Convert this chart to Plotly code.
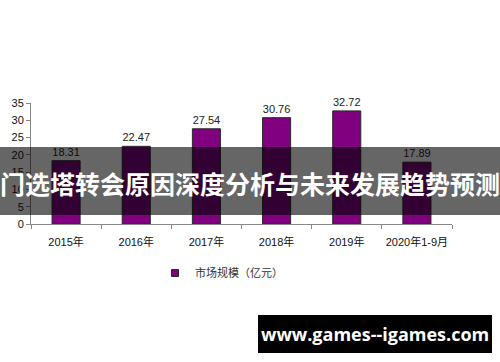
import plotly.graph_objects as go

categories = ["2015年", "2016年", "2017年", "2018年", "2019年", "2020年1-9月"]
values = [18.31, 22.47, 27.54, 30.76, 32.72, 17.89]
labels = ["18.31", "22.47", "27.54", "30.76", "32.72", "17.89"]
series_name = "市场规模（亿元）"
banner_text = "门选塔转会原因深度分析与未来发展趋势预测"
watermark_text = "www.games--igames.com"

W, H = 500, 362
FONT = "Arial, 'Liberation Sans', 'Noto Sans CJK SC', sans-serif"

fig = go.Figure()
fig.add_trace(go.Bar(
    x=categories, y=values, name=series_name, showlegend=False,
    marker=dict(color="#800080", line=dict(color="#2a2a2a", width=1)),
    width=0.4,
    text=labels, textposition="outside", cliponaxis=False,
    textfont=dict(size=11, color="#222222", family=FONT),
))
# legend entry with a small square swatch
fig.add_trace(go.Scatter(
    x=[None], y=[None], mode="markers", name=series_name, showlegend=True,
    marker=dict(symbol="square", size=7, color="#800080", line=dict(color="#2a2a2a", width=1)),
))

def px_x(p):
    return p / W

def px_y(p):
    return 1 - p / H

fig.update_layout(
    width=W, height=H,
    margin=dict(l=0, r=0, t=0, b=0, autoexpand=False),
    paper_bgcolor="white", plot_bgcolor="white",
    font=dict(family=FONT, size=11, color="#111111"),
    showlegend=True,
    legend=dict(orientation="h", x=px_x(155), y=px_y(273), xanchor="left", yanchor="middle",
                font=dict(size=11, color="#333333"), itemwidth=30, bgcolor="rgba(0,0,0,0)"),
    xaxis=dict(domain=[px_x(31), px_x(452)], showline=True, linecolor="#888888", linewidth=1,
               ticks="outside", tickson="boundaries", ticklen=4, tickcolor="#888888",
               ticklabelstandoff=8,
               tickangle=0, showgrid=False, tickfont=dict(size=11, color="#111111")),
    yaxis=dict(domain=[px_y(224), px_y(103)], range=[0, 35], dtick=5, showline=True,
               linecolor="#888888", linewidth=1, ticks="outside", ticklen=4, tickcolor="#888888",
               showgrid=False, zeroline=False, tickfont=dict(size=11, color="#111111")),
    bargap=0.6,
)

shapes = [
    dict(type="rect", xref="paper", yref="paper", x0=0, x1=1, y0=px_y(215), y1=px_y(147),
         fillcolor="rgba(0,0,0,0.6)", line=dict(width=0), layer="above"),
    dict(type="rect", xref="paper", yref="paper", x0=px_x(258), x1=px_x(492), y0=px_y(353), y1=px_y(315),
         fillcolor="black", line=dict(width=0), layer="above"),
]
fig.update_layout(shapes=shapes)

fig.add_annotation(text="<b>" + banner_text + "</b>", xref="paper", yref="paper",
                   x=0.5, y=px_y(183), xanchor="center", yanchor="middle", showarrow=False,
                   font=dict(size=25, color="white", family="'Noto Sans CJK SC', sans-serif"))
fig.add_annotation(text="<b>" + watermark_text + "</b>", xref="paper", yref="paper",
                   x=px_x(375), y=px_y(334), xanchor="center", yanchor="middle", showarrow=False,
                   font=dict(size=18, color="white", family="'Open Sans', 'DejaVu Sans', sans-serif"))

fig.write_html("out.html", config={"displayModeBar": False},
               post_script="document.body.style.margin='0';document.body.style.overflow='hidden';")
